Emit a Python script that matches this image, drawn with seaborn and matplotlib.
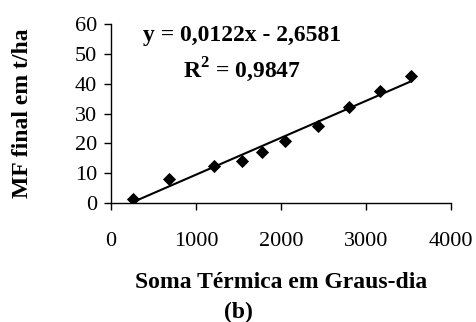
import matplotlib
matplotlib.use("Agg")
import matplotlib.pyplot as plt
import seaborn as sns
import pandas as pd

# ------------------ DATA ------------------
soma_termica = [255, 682, 1216, 1545, 1773, 2051, 2439, 2804, 3165, 3529]
mf_final = [1.3, 8.0, 12.5, 14.1, 17.0, 20.8, 25.8, 32.3, 37.6, 42.6]
x_ticks = [0, 1000, 2000, 3000, 4000]
y_ticks = [0, 10, 20, 30, 40, 50, 60]
eq_text = "y = 0,0122x - 2,6581"
r2_text = "R$^\\mathregular{2}$ = 0,9847"

df = pd.DataFrame({"x": soma_termica, "y": mf_final})

# ------------------ STYLE ------------------
sns.set_style("ticks")
plt.rcParams["font.family"] = ["Liberation Serif", "DejaVu Serif"]
plt.rcParams["mathtext.fontset"] = "custom"
plt.rcParams["mathtext.rm"] = "Liberation Serif:bold"
plt.rcParams["text.color"] = "black"
plt.rcParams["axes.labelcolor"] = "black"

fig = plt.figure(figsize=(4.76, 3.22), dpi=100)
ax = fig.add_axes([0.233, 0.3696, 0.714, 0.555])

sns.regplot(data=df, x="x", y="y", ax=ax, ci=None, truncate=True,
            marker="D", color="black",
            scatter_kws={"s": 45, "linewidths": 0, "alpha": 1},
            line_kws={"linewidth": 1.5})

ax.set_xlim(0, 4000)
ax.set_ylim(0, 60)
ax.set_xticks(x_ticks)
ax.set_yticks(y_ticks)
ax.tick_params(axis="x", direction="out", length=5, width=1, pad=16, labelsize=16, colors="black")
ax.tick_params(axis="y", direction="out", length=5, width=1, pad=5, labelsize=16, colors="black")
for side in ["top", "right"]:
    ax.spines[side].set_visible(False)
for side in ["left", "bottom"]:
    ax.spines[side].set_color("black")
    ax.spines[side].set_linewidth(1)

ax.set_xlabel("Soma Térmica em Graus-dia", fontsize=17, fontweight="bold", labelpad=15, color="black")
ax.set_ylabel("MF final em t/ha", fontsize=17, fontweight="bold", labelpad=30, color="black")
fig.text(0.5, 0.031, "(b)", fontsize=17, fontweight="bold", ha="center", va="center", color="black")

ax.text(0.385, 0.94, eq_text, transform=ax.transAxes, fontsize=17, fontweight="bold",
        ha="center", va="center", color="black")
ax.text(0.387, 0.745, r2_text, transform=ax.transAxes, fontsize=17, fontweight="bold",
        ha="center", va="center", color="black")

fig.savefig("out.png", dpi=100)
